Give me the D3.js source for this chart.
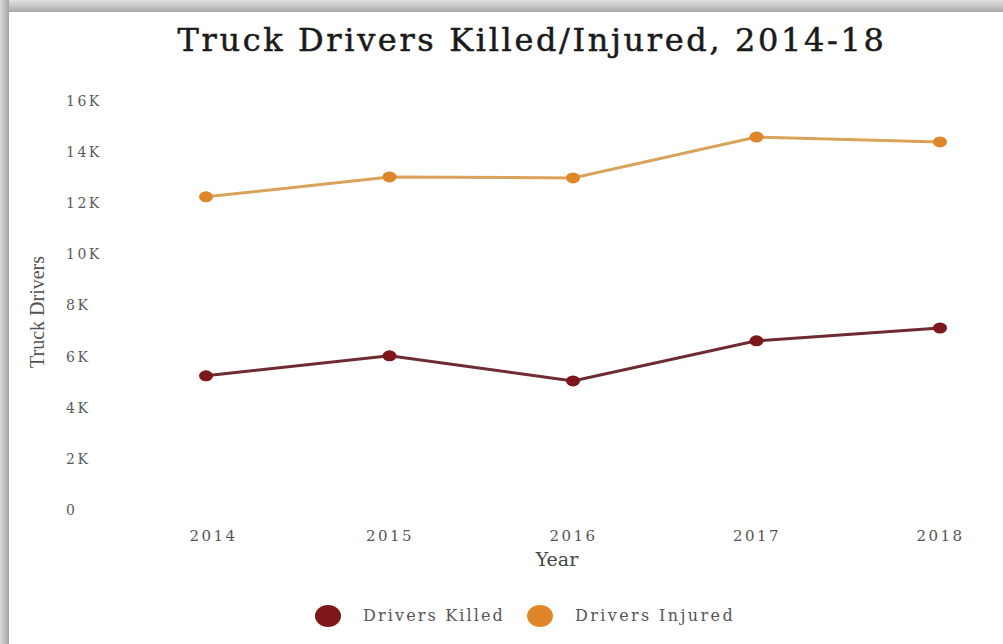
<!DOCTYPE html>
<html>
<head>
<meta charset="utf-8">
<script src="https://cdn.jsdelivr.net/npm/d3@7"></script>
<style>
  body { margin: 0; background: #fff; }
  svg { display: block; }
</style>
</head>
<body>
<svg id="chart" width="1003" height="644"></svg>
<script>
const years = [2014, 2015, 2016, 2017, 2018];
const killed = [5250, 6030, 5050, 6620, 7120];
const injured = [12250, 13030, 12990, 14590, 14400];
const y_ticks = [0, 2000, 4000, 6000, 8000, 10000, 12000, 14000, 16000];
const series_names = ["Drivers Killed", "Drivers Injured"];

const dot_colors = ["#7d171c", "#e0862a"];
const line_colors = ["#6e2b31", "#d9a35c"];

const svg = d3.select("#chart");
const W = 1003, H = 644;

//spread a text node to a given width with letter spacing
function spreadTo(sel, width) {
    const w = sel.node().getComputedTextLength();
    const n = sel.text().length;
    sel.attr("letter-spacing", (width - w) / n);
}

// frame / shadow round the picture
const defs = svg.append("defs");
const gTop = defs.append("linearGradient").attr("id", "gtop")
    .attr("x1", "0%").attr("y1", "0%").attr("x2", "0%").attr("y2", "100%");
gTop.append("stop").attr("offset", "0%").attr("stop-color", "#e2e2e2");
gTop.append("stop").attr("offset", "100%").attr("stop-color", "#a9a9a9");
const gLeft = defs.append("linearGradient").attr("id", "gleft")
    .attr("x1", "0%").attr("y1", "0%").attr("x2", "100%").attr("y2", "0%");
gLeft.append("stop").attr("offset", "0%").attr("stop-color", "#d8d8d8");
gLeft.append("stop").attr("offset", "100%").attr("stop-color", "#a4a4a4");

svg.append("rect").attr("width", W).attr("height", H).attr("fill", "#fff");
svg.append("rect").attr("x", 0).attr("y", 0).attr("width", W).attr("height", 12)
    .attr("fill", "url(#gtop)");
svg.append("rect").attr("x", 0).attr("y", 0).attr("width", 9).attr("height", H)
    .attr("fill", "url(#gleft)");

// scales
const x = d3.scalePoint().domain(years).range([206, 940]);
const y = d3.scaleLinear().domain([0, 16000]).range([510, 101]);

// title
const title = svg.append("text")
    .attr("x", 532).attr("y", 51)
    .attr("text-anchor", "middle")
    .attr("font-family", "DejaVu Serif")
    .attr("font-size", 32)
    .attr("fill", "#1a1a1a")
    .attr("stroke", "#1a1a1a")
    .attr("stroke-width", 0.5)
    .text("Truck Drivers Killed/Injured, 2014-18");
spreadTo(title, 709);

// y axis
const yAxis = svg.append("g")
    .attr("transform", "translate(66,0)")
    .call(d3.axisLeft(y).tickValues(y_ticks).tickSize(0)
        .tickFormat(d => d === 0 ? "0" : (d / 1000) + "K"));
yAxis.select(".domain").remove();
yAxis.selectAll("text")
    .attr("x", 0)
    .attr("text-anchor", "start")
    .attr("font-family", "DejaVu Serif")
    .attr("font-size", 14)
    .attr("letter-spacing", 2.5)
    .attr("fill", "#5a5a5a");

// x axis
const xAxis = svg.append("g")
    .attr("transform", "translate(0,526)")
    .call(d3.axisBottom(x).tickSize(0).tickPadding(4));
xAxis.select(".domain").remove();
xAxis.selectAll("text")
    .attr("font-family", "DejaVu Serif")
    .attr("font-size", 15)
    .attr("letter-spacing", 2.5)
    .attr("fill", "#555");
// first label sits a little to the right of its point
xAxis.selectAll(".tick").filter(d => d === 2014).select("text").attr("dx", 7);

// axis titles
svg.append("text")
    .attr("transform", "translate(44,312) rotate(-90)")
    .attr("text-anchor", "middle")
    .attr("font-family", "Liberation Serif")
    .attr("font-size", 20)
    .attr("fill", "#555")
    .text("Truck Drivers");

svg.append("text")
    .attr("x", 557).attr("y", 566)
    .attr("text-anchor", "middle")
    .attr("font-family", "DejaVu Serif")
    .attr("font-size", 19)
    .attr("fill", "#444")
    .text("Year");

// lines and dots
const all_series = [killed, injured];
const line = d3.line().x((d, i) => x(years[i])).y(d => y(d));

all_series.forEach((vals, s) => {
    svg.append("path")
        .datum(vals)
        .attr("d", line)
        .attr("fill", "none")
        .attr("stroke", line_colors[s])
        .attr("stroke-width", 3);
    svg.selectAll(".dot" + s)
        .data(vals)
        .enter()
        .append("ellipse")
        .attr("class", "dot" + s)
        .attr("cx", (d, i) => x(years[i]))
        .attr("cy", d => y(d))
        .attr("rx", 7)
        .attr("ry", 5.5)
        .attr("fill", dot_colors[s]);
});

// legend
const legend_x = [328, 540];
const legend_w = [142, 160];
series_names.forEach((name, s) => {
    svg.append("ellipse")
        .attr("cx", legend_x[s]).attr("cy", 616)
        .attr("rx", 13).attr("ry", 11)
        .attr("fill", dot_colors[s]);
    const t = svg.append("text")
        .attr("x", legend_x[s] + 35).attr("y", 621)
        .attr("font-family", "DejaVu Serif")
        .attr("font-size", 16)
        .attr("fill", "#555")
        .text(name);
    spreadTo(t, legend_w[s]);
});
</script>
</body>
</html>
